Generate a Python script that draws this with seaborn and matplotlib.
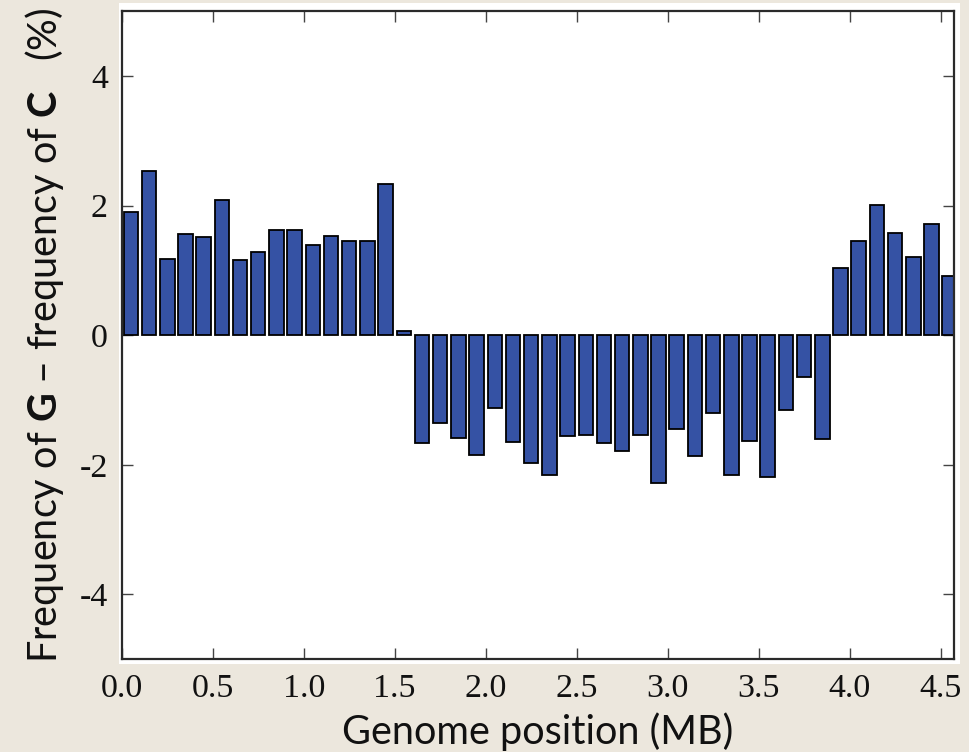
import numpy as np
import pandas as pd
import matplotlib
matplotlib.use("Agg")
import matplotlib.pyplot as plt
from matplotlib.patches import Rectangle
from matplotlib.ticker import FixedLocator, FormatStrFormatter
import seaborn as sns

# Bin centres along the genome (MB)
positions = [0.05, 0.15, 0.25, 0.35, 0.45, 0.55, 0.65, 0.75, 0.85, 0.95,
             1.05, 1.15, 1.25, 1.35, 1.45, 1.55, 1.65, 1.75, 1.85, 1.95,
             2.05, 2.15, 2.25, 2.35, 2.45, 2.55, 2.65, 2.75, 2.85, 2.95,
             3.05, 3.15, 3.25, 3.35, 3.45, 3.55, 3.65, 3.75, 3.85, 3.95,
             4.05, 4.15, 4.25, 4.35, 4.45, 4.55]
# G - C skew (%)
skew = [1.90, 2.53, 1.18, 1.57, 1.51, 2.08, 1.16, 1.29, 1.63, 1.62,
        1.39, 1.53, 1.46, 1.46, 2.33, 0.06, -1.67, -1.36, -1.58, -1.85,
        -1.12, -1.65, -1.97, -2.15, -1.56, -1.54, -1.67, -1.79, -1.54, -2.28,
        -1.44, -1.87, -1.20, -2.15, -1.63, -2.18, -1.15, -0.65, -1.60, 1.04,
        1.45, 2.01, 1.58, 1.21, 1.72, 0.92]
xticks = [0.0, 0.5, 1.0, 1.5, 2.0, 2.5, 3.0, 3.5, 4.0, 4.5]
yticks = [-4, -2, 0, 2, 4]

df = pd.DataFrame({"pos": positions, "skew": skew})

sns.set_theme(style="white")
plt.rcParams["axes.unicode_minus"] = False
plt.rcParams["mathtext.fontset"] = "custom"
plt.rcParams["mathtext.rm"] = "Lato"
plt.rcParams["mathtext.bf"] = "Lato:bold"

bg = "#ECE7DD"
fig = plt.figure(figsize=(9.7, 7.52), dpi=100, facecolor=bg)
fig.patches.append(Rectangle((0.1227, 0.117), 0.867, 0.879, transform=fig.transFigure,
                             facecolor="white", edgecolor="none", zorder=-5))
ax = fig.add_axes([0.1255, 0.1233, 0.8583, 0.8617])
ax.set_zorder(1)
ax.set_facecolor("white")

sns.barplot(data=df, x="pos", y="skew", native_scale=True, width=0.8,
            color="#3552A4", saturation=1, edgecolor="black", linewidth=1.3, ax=ax)

ax.set_xlim(0, 4.575)
ax.set_ylim(-5, 5)
ax.xaxis.set_major_locator(FixedLocator(xticks))
ax.xaxis.set_major_formatter(FormatStrFormatter("%.1f"))
ax.yaxis.set_major_locator(FixedLocator(yticks))
ax.yaxis.set_major_formatter(FormatStrFormatter("%d"))

for s in ax.spines.values():
    s.set_visible(True)
    s.set_color("#2a2a2a")
    s.set_linewidth(1.6)

ax.tick_params(direction="in", length=8, width=1.0, color="#444444",
               top=True, right=True, bottom=True, left=True,
               labeltop=False, labelright=False)
for lab in ax.get_xticklabels() + ax.get_yticklabels():
    lab.set_fontfamily("Liberation Serif")
    lab.set_fontsize(24.5)
    lab.set_color("#111111")
ax.tick_params(axis="x", pad=10)
ax.tick_params(axis="y", pad=10)

ax.set_xlabel("Genome position (MB)", fontfamily="Lato", fontsize=28.5, color="#111111", labelpad=6)
ax.set_ylabel(r"Frequency of $\mathbf{G}$ – frequency of $\mathbf{C}$   (%)",
              fontfamily="Lato", fontsize=28.5, color="#111111", labelpad=10)

fig.savefig("out.png", dpi=100, facecolor=bg)
